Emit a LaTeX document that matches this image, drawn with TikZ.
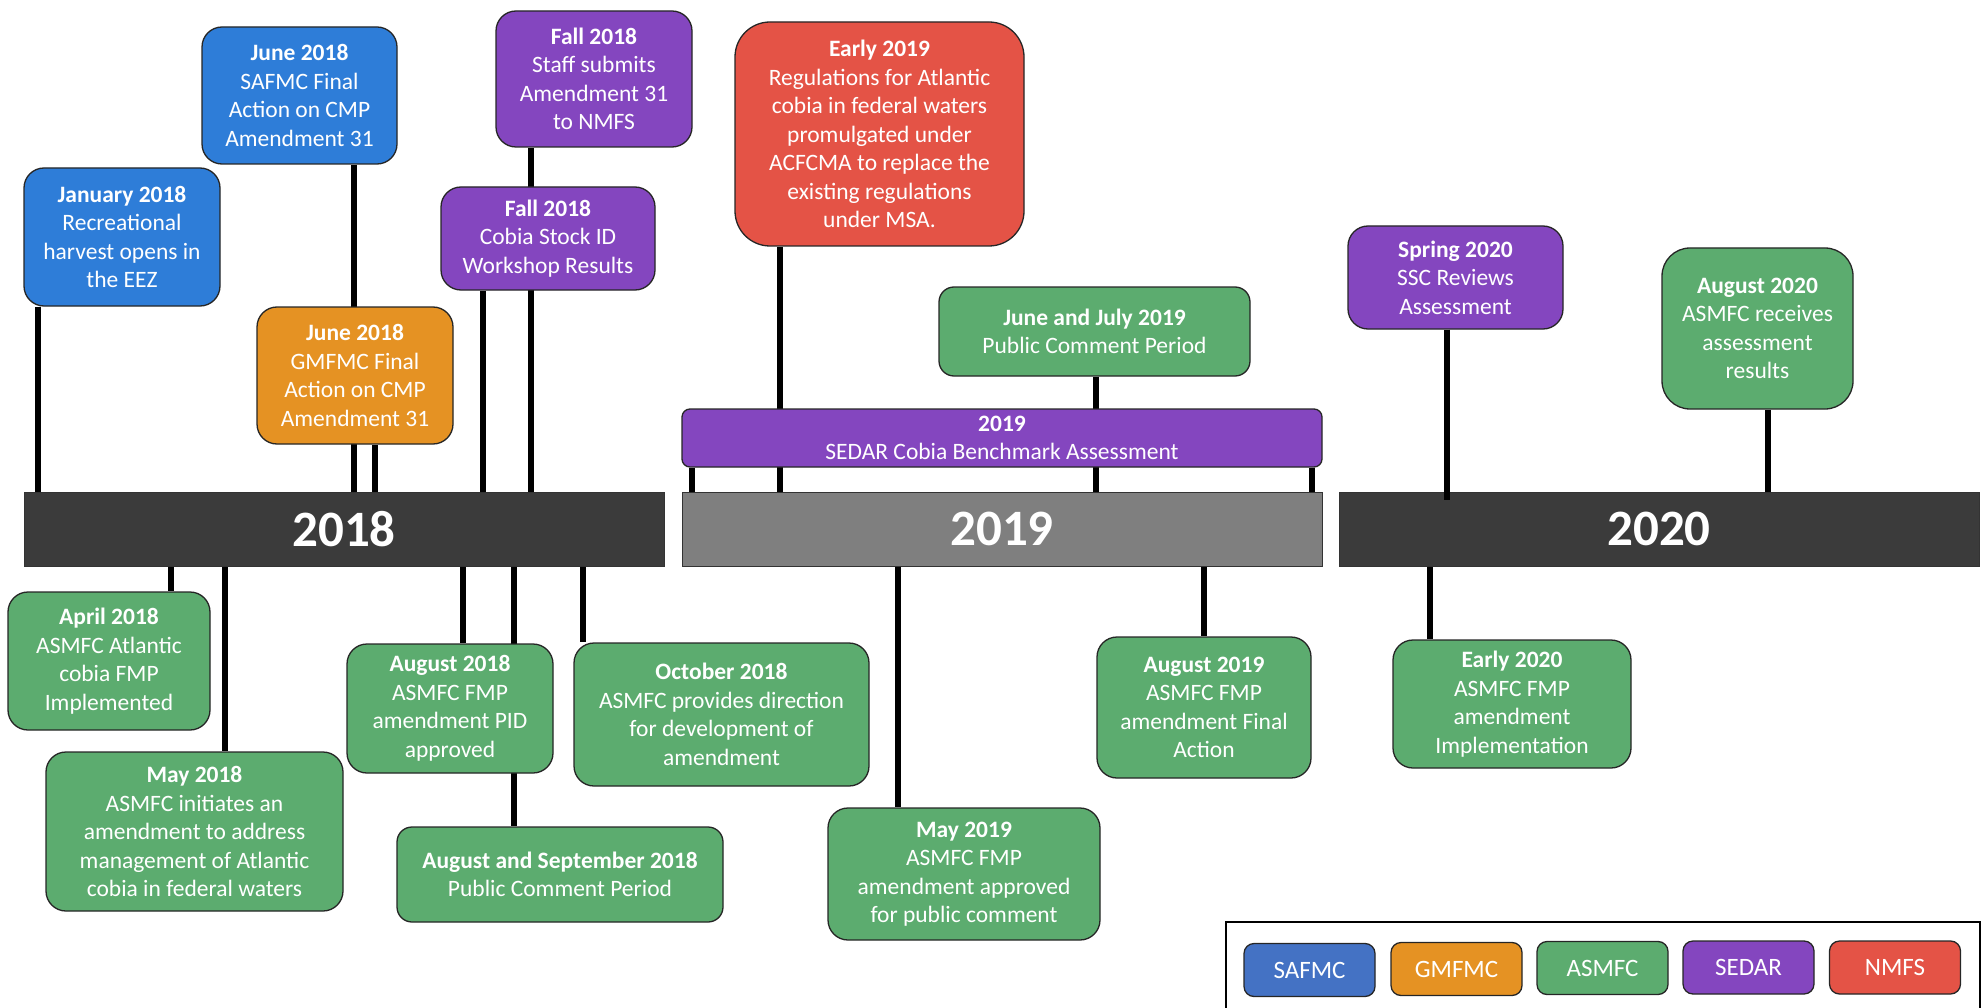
\documentclass[tikz,border=0pt]{standalone}
\usepackage{fontspec}
\setmainfont{Carlito}
\pgfdeclarelayer{bg}
\pgfsetlayers{bg,main}
\definecolor{cblue}{HTML}{2E7DD8}
\definecolor{corange}{HTML}{E59223}
\definecolor{cgreen}{HTML}{5CAC6F}
\definecolor{cpurple}{HTML}{8446BF}
\definecolor{cred}{HTML}{E45346}
\definecolor{clegblue}{HTML}{4472C4}
\definecolor{cdark}{HTML}{3B3B3B}
\definecolor{cgray}{HTML}{7F7F7F}
\tikzset{
  evbox/.style={draw=black!85, line width=1.3pt, rounded corners=20pt, text=white, align=center,
    inner sep=0pt, font=\fontsize{23.5}{28.5}\selectfont},
  yearbar/.style={draw=black!80, line width=1pt, text=white, inner sep=0pt,
    minimum width=640, minimum height=74, font=\fontsize{51}{60}\selectfont\bfseries},
  legbox/.style={draw=black!85, line width=1.3pt, rounded corners=10pt, text=white, inner sep=0pt,
    minimum width=131, minimum height=53, font=\fontsize{25}{30}\selectfont},
  conn/.style={line width=6pt, black},
}
\begin{document}
\begin{tikzpicture}[x=1pt,y=-1pt]
\useasboundingbox (0,0) rectangle (1988,1008);
% year bars
\node[yearbar, fill=cdark] (bar18) at (344,529) {2018};
\node[yearbar, fill=cgray] (bar19) at (1002,529) {2019};
\node[yearbar, fill=cdark] (bar20) at (1659,529) {2020};
% boxes above
\node[evbox, fill=cblue, minimum width=196, minimum height=138] (jan) at (122,237)
  {\textbf{January 2018}\\Recreational\\harvest opens in\\the EEZ};
\node[evbox, fill=cblue, minimum width=195, minimum height=137] (safmc) at (299.5,95.5)
  {\textbf{June 2018}\\SAFMC Final\\Action on CMP\\Amendment 31};
\node[evbox, fill=corange, minimum width=196, minimum height=137] (gmfmc) at (355,375.5)
  {\textbf{June 2018}\\GMFMC Final\\Action on CMP\\Amendment 31};
\node[evbox, fill=cpurple, minimum width=196, minimum height=136] (staff) at (594,79)
  {\textbf{Fall 2018}\\Staff submits\\Amendment 31\\to NMFS};
\node[evbox, fill=cpurple, minimum width=214, minimum height=103] (stock) at (548,238.5)
  {\textbf{Fall 2018}\\Cobia Stock ID\\Workshop Results};
\node[evbox, fill=cred, rounded corners=35pt, minimum width=289, minimum height=224] (early19) at (879.5,134)
  {\textbf{Early 2019}\\Regulations for Atlantic\\cobia in federal waters\\promulgated under\\ACFCMA to replace the\\existing regulations\\under MSA.};
\node[evbox, fill=cgreen, rounded corners=15pt, minimum width=311, minimum height=89] (junjul) at (1094.5,331.5)
  {\textbf{June and July 2019}\\Public Comment Period};
\node[evbox, fill=cpurple, rounded corners=8pt, minimum width=640, minimum height=58] (sedar) at (1002,438)
  {\textbf{2019}\\SEDAR Cobia Benchmark Assessment};
\node[evbox, fill=cpurple, minimum width=215, minimum height=103] (spring) at (1455.5,277.5)
  {\textbf{Spring 2020}\\SSC Reviews\\Assessment};
\node[evbox, fill=cgreen, rounded corners=28pt, minimum width=191, minimum height=161] (aug20) at (1757.5,328.5)
  {\textbf{August 2020}\\ASMFC receives\\assessment\\results};
% boxes below
\node[evbox, fill=cgreen, minimum width=202, minimum height=138] (apr) at (109,661)
  {\textbf{April 2018}\\ASMFC Atlantic\\cobia FMP\\Implemented};
\node[evbox, fill=cgreen, minimum width=297, minimum height=159] (may18) at (194.5,831.5)
  {\textbf{May 2018}\\ASMFC initiates an\\amendment to address\\management of Atlantic\\cobia in federal waters};
\node[evbox, fill=cgreen, minimum width=206, minimum height=129] (aug18) at (450,708.5)
  {\textbf{August 2018}\\ASMFC FMP\\amendment PID\\approved};
\node[evbox, fill=cgreen, rounded corners=15pt, minimum width=326, minimum height=95] (augsep) at (560,874.5)
  {\textbf{August and September 2018}\\Public Comment Period};
\node[evbox, fill=cgreen, minimum width=295, minimum height=143] (oct) at (721.5,714.5)
  {\textbf{October 2018}\\ASMFC provides direction\\for development of\\amendment};
\node[evbox, fill=cgreen, minimum width=272, minimum height=132] (may19) at (964,874)
  {\textbf{May 2019}\\ASMFC FMP\\amendment approved\\for public comment};
\node[evbox, fill=cgreen, minimum width=214, minimum height=141] (aug19) at (1204,707.5)
  {\textbf{August 2019}\\ASMFC FMP\\amendment Final\\Action};
\node[evbox, fill=cgreen, minimum width=238, minimum height=128] (early20) at (1512,704)
  {\textbf{Early 2020}\\ASMFC FMP\\amendment\\Implementation};
% connectors
\begin{pgfonlayer}{bg}
\draw[conn] (38,0 |- jan.south) -- (38,0 |- bar18.north);
\draw[conn] (354,0 |- safmc.south) -- (354,0 |- bar18.north);
\draw[conn] (375,0 |- gmfmc.south) -- (375,0 |- bar18.north);
\draw[conn] (531,0 |- staff.south) -- (531,0 |- bar18.north);
\draw[conn] (483,0 |- stock.south) -- (483,0 |- bar18.north);
\draw[conn] (780,0 |- early19.south) -- (780,0 |- bar19.north);
\draw[conn] (1096,0 |- junjul.south) -- (1096,0 |- bar19.north);
\draw[conn] (692,0 |- sedar.south) -- (692,0 |- bar19.north);
\draw[conn] (1312,0 |- sedar.south) -- (1312,0 |- bar19.north);
\draw[conn] (1768,0 |- aug20.south) -- (1768,0 |- bar20.north);
\draw[conn] (171,0 |- bar18.south) -- (171,0 |- apr.north);
\draw[conn] (224.5,0 |- bar18.south) -- (224.5,0 |- may18.north);
\draw[conn] (463,0 |- bar18.south) -- (463,0 |- aug18.north);
\draw[conn] (514,0 |- bar18.south) -- (514,0 |- augsep.north);
\draw[conn] (583,0 |- bar18.south) -- (583,0 |- oct.north);
\draw[conn] (898,0 |- bar19.south) -- (898,0 |- may19.north);
\draw[conn] (1204,0 |- bar19.south) -- (1204,0 |- aug19.north);
\draw[conn] (1430,0 |- bar20.south) -- (1430,0 |- early20.north);
\end{pgfonlayer}
\coordinate (springend) at (1447,500);
\draw[conn] (1447,0 |- spring.south) -- (springend);
% legend
\draw[line width=1.5pt] (1226,1010) |- (1980,922) -- (1980,1010);
\node[legbox, fill=clegblue] (lsafmc) at (1309.5,970) {SAFMC};
\node[legbox, fill=corange] (lgmfmc) at (1456.5,969) {GMFMC};
\node[legbox, fill=cgreen] (lasmfc) at (1602.5,968) {ASMFC};
\node[legbox, fill=cpurple] (lsedar) at (1748.5,967.5) {SEDAR};
\node[legbox, fill=cred] (lnmfs) at (1895,967.5) {NMFS};
\end{tikzpicture}
\end{document}
